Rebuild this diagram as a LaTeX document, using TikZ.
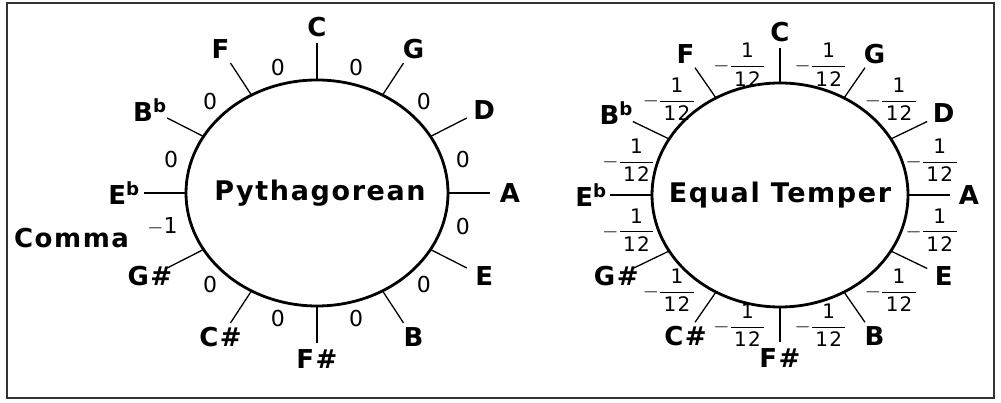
\documentclass[tikz,border=0pt]{standalone}
\usepackage{amsmath}
\usepackage{fontspec}
\setmainfont{DejaVu Sans}[LetterSpace=6]
\usetikzlibrary{calc,positioning}

% minus one twelfth, set as a small stacked fraction
\newcommand{\twelfth}{{\fontsize{20}{22}\selectfont$-\genfrac{}{}{1pt}{0}{\,\mbox{1}\,}{\,\mbox{12}\,}$}}

\begin{document}
\begin{tikzpicture}[x=1pt,y=1pt,
    ring/.style={line width=2.8pt},
    spoke/.style={line width=1.3pt},
    note/.style={font=\fontsize{26}{26}\selectfont\bfseries, inner sep=1pt},
    title/.style={font=\fontsize{27}{27}\selectfont\bfseries},
    zero/.style={font=\fontsize{22}{22}\selectfont, inner sep=1pt},
    frac/.style={inner sep=0pt}]
  \useasboundingbox (0,0) rectangle (1001,403);
  \draw[line width=1.6pt, black!80] (7,5) rectangle (994,400);

  % Pythagorean circle
  \node[title] (pyth) at (320,210) {Pythagorean};
  \draw[ring] (317,210) ellipse [x radius=131pt, y radius=113pt];
  \coordinate (pc) at (317,210);
  \foreach \a/\n/\l in {90/C/C, 60/G/G, 30/D/D, 0/A/A, -30/E/E, -60/B/B,
      -90/Fs/F\#, -120/Cs/C\#, -150/Gs/G\#, 180/Eb/{E\textsuperscript{b}},
      150/Bb/{B\textsuperscript{b}}, 120/F/F} {
    \coordinate (p\n-in)  at ($(pc)+(\a:131pt and 113pt)$);
    \coordinate (p\n-out) at ($(pc)+(\a:173pt and 150pt)$);
    \node[note] (p\n) at ($(pc)+(\a:193pt and 166pt)$) {\l};
    \draw[spoke] (p\n-in) -- (p\n-out);
  }
  \foreach \a in {75,45,15,-15,-45,-75,-105,-135,165,135,105}
    \node[zero] (pz\a) at ($(pc)+(\a:151pt and 130pt)$) {0};
  \node[zero] (pcomma) at ($(pc)+(-165:160pt and 130pt)$) {$-$1};
  \node[note] (comma) [left=16pt of pcomma, yshift=-11pt] {Comma};

  % equal temperament circle
  \coordinate (ec) at (780,208);
  \node[title] (equal) at (ec) {Equal Temper};
  \draw[ring] (ec) ellipse [x radius=128pt, y radius=112pt];
  \foreach \a/\n/\l in {90/C/C, 60/G/G, 30/D/D, 0/A/A, -30/E/E, -60/B/B,
      -90/Fs/F\#, -120/Cs/C\#, -150/Gs/G\#, 180/Eb/{E\textsuperscript{b}},
      150/Bb/{B\textsuperscript{b}}, 120/F/F} {
    \coordinate (e\n-in)  at ($(ec)+(\a:128pt and 112pt)$);
    \coordinate (e\n-out) at ($(ec)+(\a:170pt and 147pt)$);
    \node[note] (e\n) at ($(ec)+(\a:189pt and 163pt)$) {\l};
    \draw[spoke] (e\n-in) -- (e\n-out);
  }
  \foreach \a in {75,45,15,-15,-45,-75,-105,-135,-165,165,135,105}
    \node[frac] (ef\a) at ($(ec)+(\a:157pt and 135pt)$) {\twelfth};
\end{tikzpicture}
\end{document}
